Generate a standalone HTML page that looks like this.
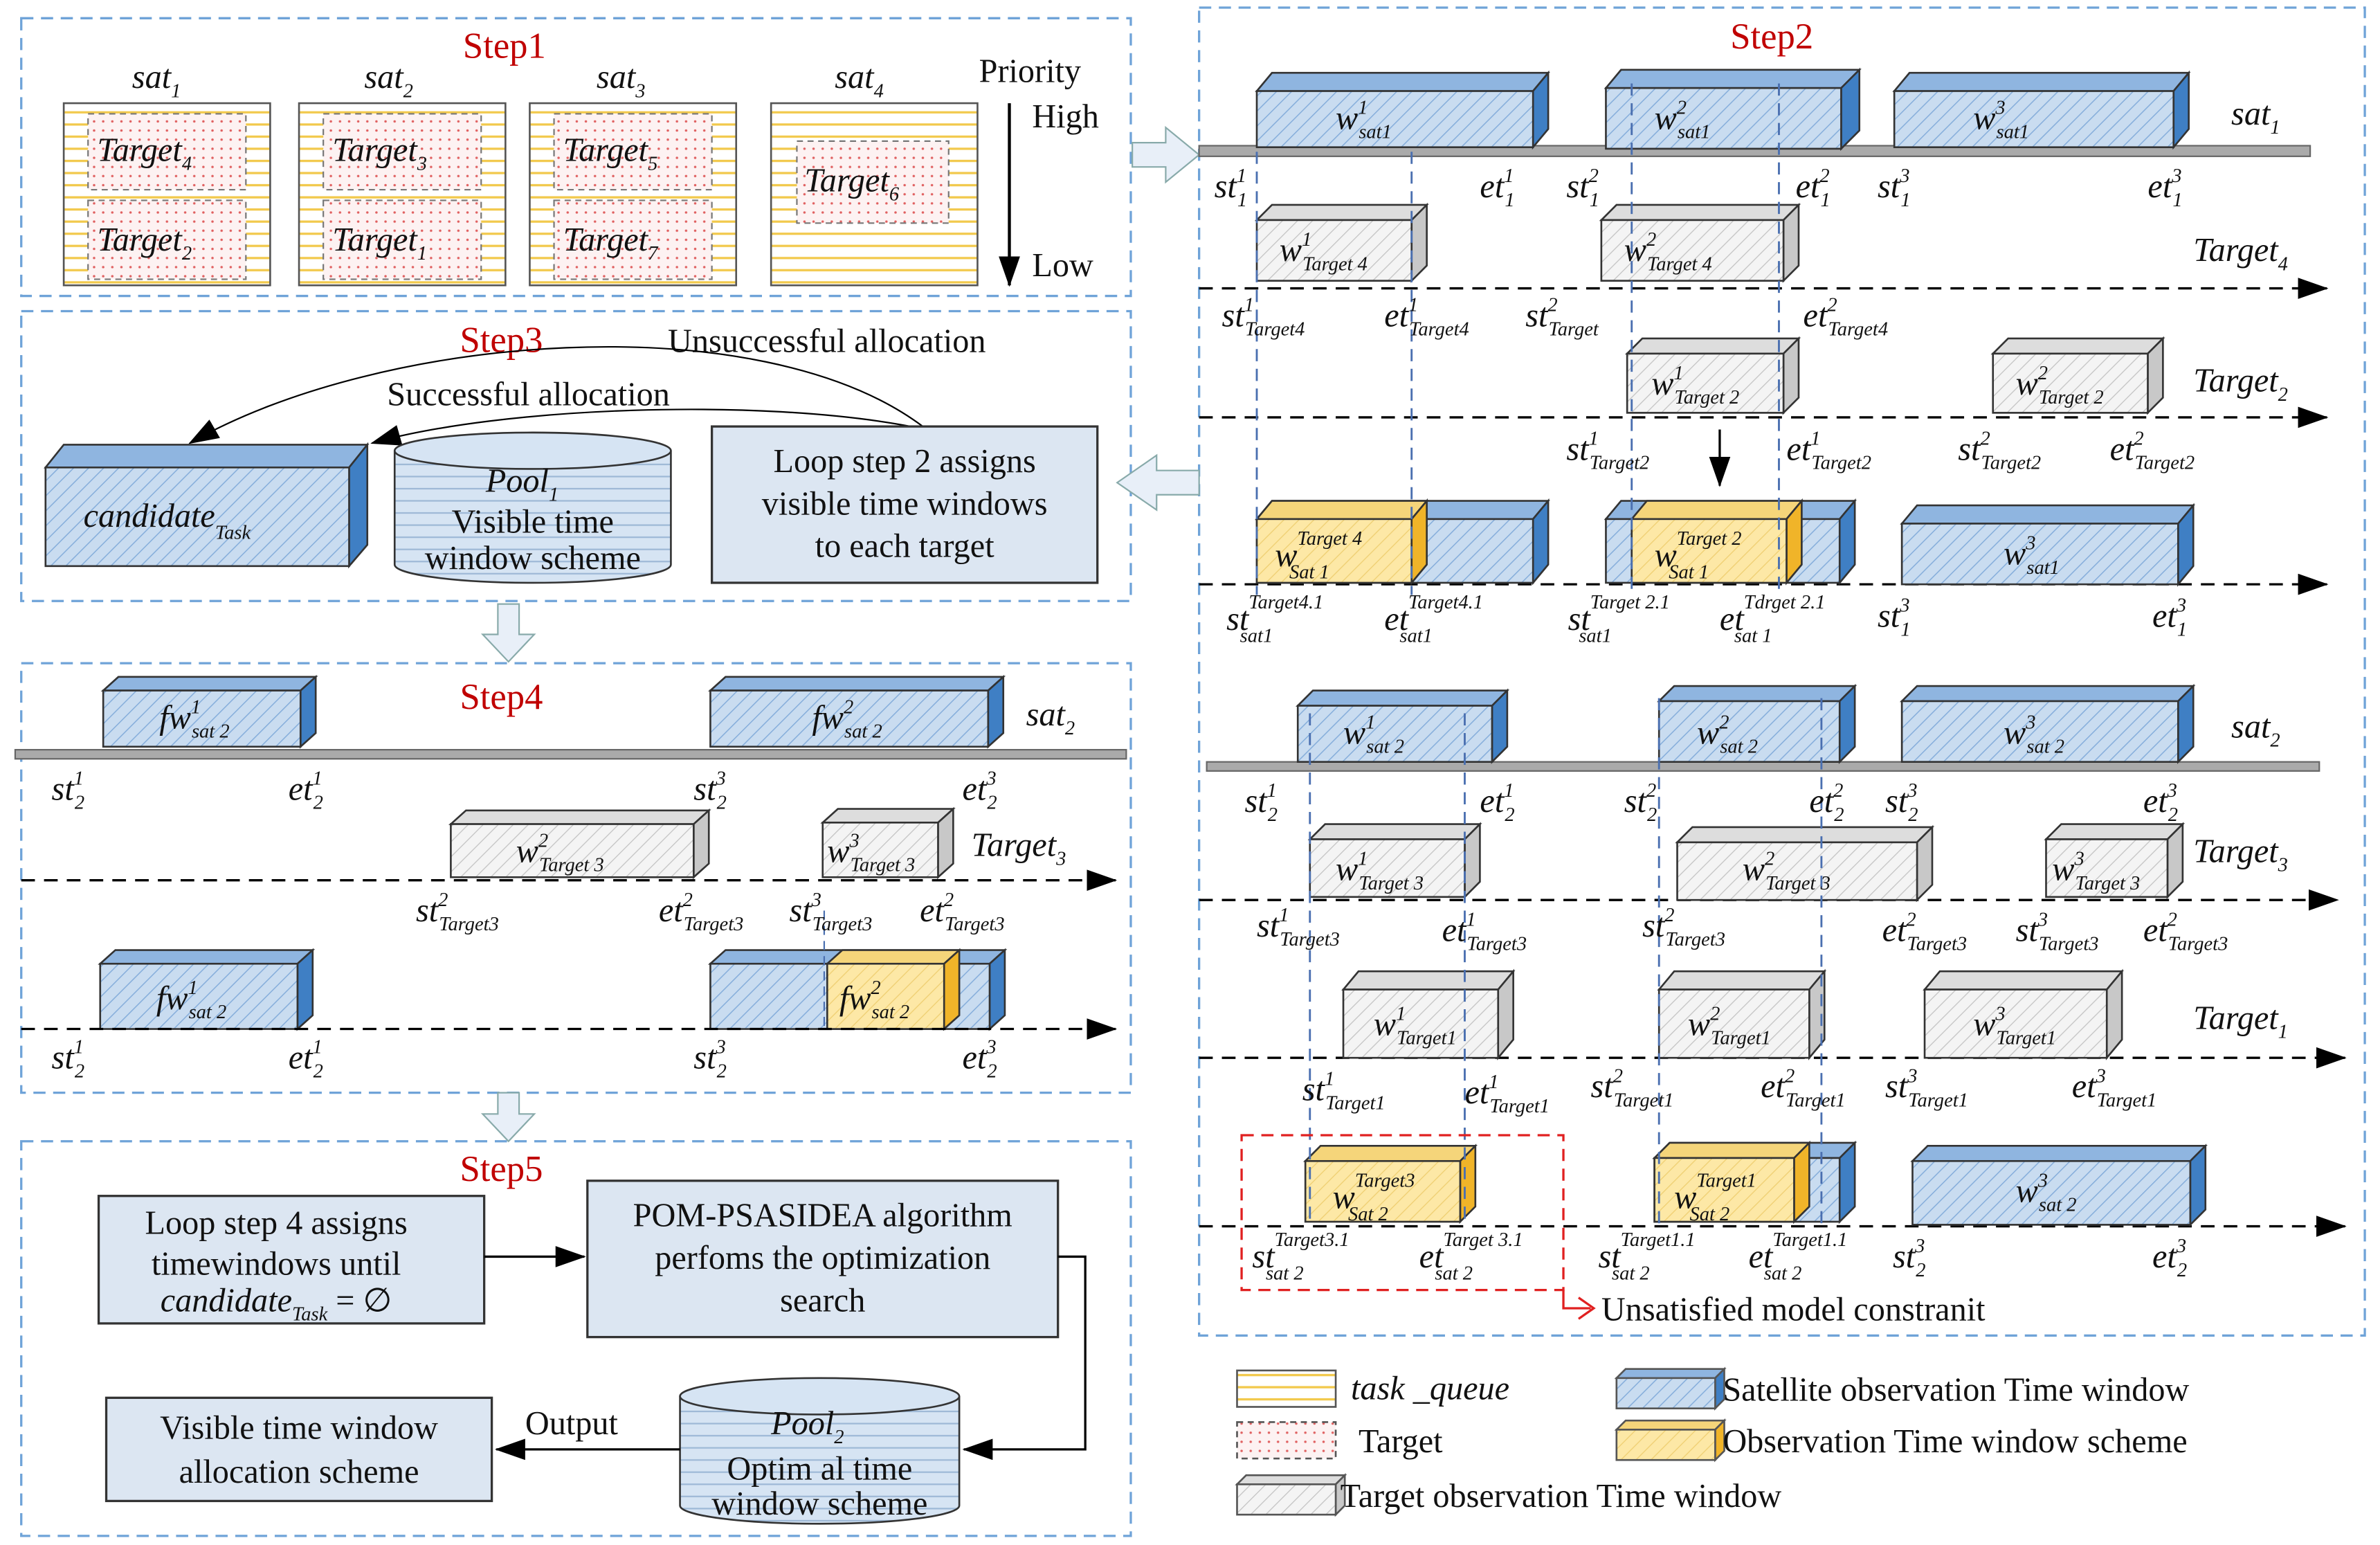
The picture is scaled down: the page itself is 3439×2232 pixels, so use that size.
<!DOCTYPE html>
<html><head><meta charset="utf-8"><style>
html,body{margin:0;padding:0;background:#fff}
svg{display:block}
text{font-family:"Liberation Serif",serif;fill:#111}
.i{font-style:italic}
.s{font-size:13px}
.l{font-size:22px;font-style:italic}
.t{font-size:22px}
.r{fill:#c00000;font-size:24px}
</style></head><body>
<svg width="3439" height="2232" viewBox="0 0 1568 1018" preserveAspectRatio="none" xmlns="http://www.w3.org/2000/svg">
<defs>
<pattern id="hb" width="7" height="7" patternUnits="userSpaceOnUse" patternTransform="rotate(45)"><rect width="7" height="7" fill="#c9dcf0"/><line x1="0" y1="0" x2="0" y2="7" stroke="#86aedb" stroke-width="1.4"/></pattern>
<pattern id="hg" width="7" height="7" patternUnits="userSpaceOnUse" patternTransform="rotate(45)"><rect width="7" height="7" fill="#f4f4f4"/><line x1="0" y1="0" x2="0" y2="7" stroke="#c4c4c4" stroke-width="1.2"/></pattern>
<pattern id="hy" width="7" height="7" patternUnits="userSpaceOnUse" patternTransform="rotate(45)"><rect width="7" height="7" fill="#fde8a6"/><line x1="0" y1="0" x2="0" y2="7" stroke="#efcf72" stroke-width="1.2"/></pattern>
<pattern id="ys" width="8" height="8" patternUnits="userSpaceOnUse"><rect width="8" height="8" fill="#fff"/><line x1="0" y1="2" x2="8" y2="2" stroke="#f2c94c" stroke-width="1.5"/></pattern>
<pattern id="bs" width="8" height="8" patternUnits="userSpaceOnUse"><rect width="8" height="8" fill="#d6e4f3"/><line x1="0" y1="2" x2="8" y2="2" stroke="#9db8d6" stroke-width="1"/></pattern>
<pattern id="rd" width="6" height="6" patternUnits="userSpaceOnUse"><rect width="6" height="6" fill="#fdf2f2"/><circle cx="2" cy="2" r="0.8" fill="#e06060"/></pattern>
<marker id="a" markerWidth="10" markerHeight="10" refX="9" refY="5" orient="auto" markerUnits="userSpaceOnUse"><path d="M0,0 L10,5 L0,10 z" fill="#000"/></marker>
<marker id="A" markerWidth="20" markerHeight="14" refX="19" refY="7" orient="auto" markerUnits="userSpaceOnUse"><path d="M0,0 L20,7 L0,14 z" fill="#000"/></marker>
</defs>
<g fill="none" stroke="#6fa3d8" stroke-width="1.5" stroke-dasharray="8,5">
<rect x="14" y="12" width="731" height="183"/>
<rect x="14" y="205" width="731" height="191"/>
<rect x="14" y="437" width="731" height="283"/>
<rect x="14" y="752" width="731" height="260"/>
<rect x="790" y="5" width="768" height="875"/>
</g>
<!-- Step1 -->
<text class="r" x="305" y="38">Step1</text>
<g class="l"><text x="87" y="58">sat<tspan class="s" dy="6">1</tspan></text><text x="240" y="58">sat<tspan class="s" dy="6">2</tspan></text><text x="393" y="58">sat<tspan class="s" dy="6">3</tspan></text><text x="550" y="58">sat<tspan class="s" dy="6">4</tspan></text></g>
<g stroke="#555" stroke-width="1.2" fill="url(#ys)"><rect x="42" y="68" width="136" height="120"/><rect x="197" y="68" width="136" height="120"/><rect x="349" y="68" width="136" height="120"/><rect x="508" y="68" width="136" height="120"/></g>
<g stroke="#777" stroke-dasharray="4,3" fill="url(#rd)"><rect x="58" y="75" width="104" height="50"/><rect x="58" y="132" width="104" height="52"/><rect x="213" y="75" width="104" height="50"/><rect x="213" y="132" width="104" height="52"/><rect x="365" y="75" width="104" height="50"/><rect x="365" y="132" width="104" height="52"/><rect x="525" y="93" width="100" height="54"/></g>
<g class="l" font-size="24"><text x="64" y="106">Target<tspan class="s" dy="6">4</tspan></text><text x="64" y="165">Target<tspan class="s" dy="6">2</tspan></text><text x="219" y="106">Target<tspan class="s" dy="6">3</tspan></text><text x="219" y="165">Target<tspan class="s" dy="6">1</tspan></text><text x="371" y="106">Target<tspan class="s" dy="6">5</tspan></text><text x="371" y="165">Target<tspan class="s" dy="6">7</tspan></text><text x="530" y="126">Target<tspan class="s" dy="6">6</tspan></text></g>
<line x1="665" y1="68" x2="665" y2="188" stroke="#000" stroke-width="2" marker-end="url(#A)"/>
<text class="t" x="645" y="54">Priority</text><text class="t" x="680" y="84">High</text><text class="t" x="680" y="182">Low</text>
<!-- hollow arrows -->
<path d="M746,94 L768,94 L768,84 L790,102 L768,120 L768,110 L746,110 z" fill="#e8eff8" stroke="#8aa" stroke-width="1"/>
<path d="M790,310 L762,310 L762,300 L736,318 L762,336 L762,326 L790,326 z" fill="#e8eff8" stroke="#8aa" stroke-width="1"/>
<path d="M328,398 L342,398 L342,418 L352,418 L335,436 L318,418 L328,418 z" fill="#e8eff8" stroke="#8aa" stroke-width="1"/>
<path d="M328,720 L342,720 L342,734 L352,734 L335,752 L318,734 L328,734 z" fill="#e8eff8" stroke="#8aa" stroke-width="1"/>
<!-- Step3 -->
<text class="r" x="303" y="232">Step3</text>
<text class="t" x="440" y="232">Unsuccessful allocation</text>
<text class="t" x="255" y="267">Successful allocation</text>
<path d="M608,281 C500,200 250,220 125,292" fill="none" stroke="#000" marker-end="url(#A)"/>
<path d="M600,281 C500,262 330,268 245,292" fill="none" stroke="#000" marker-end="url(#A)"/>
<g stroke="#333" stroke-width="1.2"><polygon points="30,308 42,293 242,293 230,308" fill="#8fb5e0"/><polygon points="230,308 242,293 242,359 230,373" fill="#3f7fc4"/><rect x="30" y="308" width="200" height="65" fill="url(#hb)"/></g>
<text class="l" x="55" y="347" font-size="26">candidate<tspan class="s" font-size="15" dy="8">Task</tspan></text>
<g stroke="#333" stroke-width="1.2"><path d="M260,297 L260,372 A91,12 0 0 0 442,372 L442,297" fill="url(#bs)"/><ellipse cx="351" cy="297" rx="91" ry="12" fill="#d6e4f3"/></g>
<text class="l" x="320" y="324" font-size="26">Pool<tspan class="s" dy="6">1</tspan></text>
<text class="t" x="351" y="351" text-anchor="middle" font-size="19">Visible time</text><text class="t" x="351" y="375" text-anchor="middle" font-size="19">window scheme</text>
<rect x="469" y="281" width="254" height="103" fill="#dce6f2" stroke="#333" stroke-width="1.5"/>
<g class="t" text-anchor="middle" font-size="23"><text x="596" y="311">Loop step 2 assigns</text><text x="596" y="339">visible time windows</text><text x="596" y="367">to each target</text></g>
<!-- Step4 -->
<text class="r" x="303" y="467">Step4</text>
<rect x="10" y="494" width="732" height="6" fill="#aaa" stroke="#666"/>
<g stroke="#333" stroke-width="1.2">
<polygon points="68,455 78,446 208,446 198,455" fill="#8fb5e0"/><polygon points="198,455 208,446 208,483 198,492" fill="#3f7fc4"/><rect x="68" y="455" width="130" height="37" fill="url(#hb)"/>
<polygon points="468,455 478,446 661,446 651,455" fill="#8fb5e0"/><polygon points="651,455 661,446 661,483 651,492" fill="#3f7fc4"/><rect x="468" y="455" width="183" height="37" fill="url(#hb)"/>
<polygon points="297,543 307,534 467,534 457,543" fill="#ddd"/><polygon points="457,543 467,534 467,569 457,578" fill="#c8c8c8"/><rect x="297" y="543" width="160" height="35" fill="url(#hg)"/>
<polygon points="542,542 552,533 628,533 618,542" fill="#ddd"/><polygon points="618,542 628,533 628,569 618,578" fill="#c8c8c8"/><rect x="542" y="542" width="76" height="36" fill="url(#hg)"/>
<polygon points="66,635 76,626 206,626 196,635" fill="#8fb5e0"/><polygon points="196,635 206,626 206,669 196,678" fill="#3f7fc4"/><rect x="66" y="635" width="130" height="43" fill="url(#hb)"/>
<polygon points="468,635 478,626 662,626 652,635" fill="#8fb5e0"/><polygon points="652,635 662,626 662,669 652,678" fill="#3f7fc4"/><rect x="468" y="635" width="184" height="43" fill="url(#hb)"/>
<polygon points="545,635 555,626 632,626 622,635" fill="#f5d57a"/><polygon points="622,635 632,626 632,669 622,678" fill="#f0b429"/><rect x="545" y="635" width="77" height="43" fill="url(#hy)"/>
</g>
<g class="l" font-size="24"><text x="105" y="480">fw<tspan class="s" dy="-10">1</tspan><tspan class="s" dx="-6" dy="16">sat 2</tspan></text><text x="535" y="480">fw<tspan class="s" dy="-10">2</tspan><tspan class="s" dx="-6" dy="16">sat 2</tspan></text><text x="103" y="665">fw<tspan class="s" dy="-10">1</tspan><tspan class="s" dx="-6" dy="16">sat 2</tspan></text><text x="553" y="665">fw<tspan class="s" dy="-10">2</tspan><tspan class="s" dx="-6" dy="16">sat 2</tspan></text>
<text x="340" y="568">w<tspan class="s" dy="-10">2</tspan><tspan class="s" dx="-6" dy="16">Target 3</tspan></text><text x="545" y="568">w<tspan class="s" dy="-10">3</tspan><tspan class="s" dx="-6" dy="16">Target 3</tspan></text>
<text x="676" y="478">sat<tspan class="s" dy="6">2</tspan></text><text x="640" y="564">Target<tspan class="s" dy="6">3</tspan></text></g>
<g stroke="#000" stroke-width="1.5" stroke-dasharray="9,6"><line x1="14" y1="580" x2="735" y2="580" marker-end="url(#A)"/><line x1="14" y1="678" x2="735" y2="678" marker-end="url(#A)"/></g>
<line x1="543" y1="600" x2="543" y2="680" stroke="#4a6fb0" stroke-dasharray="6,4"/>
<g class="l"><text x="34" y="527">st<tspan class="s" dy="-10">1</tspan><tspan class="s" dx="-6" dy="16">2</tspan></text><text x="190" y="527">et<tspan class="s" dy="-10">1</tspan><tspan class="s" dx="-6" dy="16">2</tspan></text><text x="457" y="527">st<tspan class="s" dy="-10">3</tspan><tspan class="s" dx="-6" dy="16">2</tspan></text><text x="634" y="527">et<tspan class="s" dy="-10">3</tspan><tspan class="s" dx="-6" dy="16">2</tspan></text>
<text x="274" y="607">st<tspan class="s" dy="-10">2</tspan><tspan class="s" dx="-6" dy="16">Target3</tspan></text><text x="434" y="607">et<tspan class="s" dy="-10">2</tspan><tspan class="s" dx="-6" dy="16">Target3</tspan></text><text x="520" y="607">st<tspan class="s" dy="-10">3</tspan><tspan class="s" dx="-6" dy="16">Target3</tspan></text><text x="606" y="607">et<tspan class="s" dy="-10">2</tspan><tspan class="s" dx="-6" dy="16">Target3</tspan></text>
<text x="34" y="704">st<tspan class="s" dy="-10">1</tspan><tspan class="s" dx="-6" dy="16">2</tspan></text><text x="190" y="704">et<tspan class="s" dy="-10">1</tspan><tspan class="s" dx="-6" dy="16">2</tspan></text><text x="457" y="704">st<tspan class="s" dy="-10">3</tspan><tspan class="s" dx="-6" dy="16">2</tspan></text><text x="634" y="704">et<tspan class="s" dy="-10">3</tspan><tspan class="s" dx="-6" dy="16">2</tspan></text></g>
<!-- Step5 -->
<text class="r" x="303" y="778">Step5</text>
<rect x="65" y="788" width="254" height="84" fill="#dce6f2" stroke="#333" stroke-width="1.5"/>
<g class="t" text-anchor="middle"><text x="182" y="813">Loop step 4 assigns</text><text x="182" y="840">timewindows until</text><text x="182" y="864"><tspan class="i">candidate</tspan><tspan class="s i" dy="6">Task</tspan><tspan dy="-6"> = ∅</tspan></text></g>
<line x1="319" y1="828" x2="385" y2="828" stroke="#000" stroke-width="1.5" marker-end="url(#A)"/>
<rect x="387" y="778" width="310" height="103" fill="#dce6f2" stroke="#333" stroke-width="1.5"/>
<g class="t" text-anchor="middle"><text x="542" y="808">POM-PSASIDEA algorithm</text><text x="542" y="836">perfoms the optimization</text><text x="542" y="864">search</text></g>
<polyline points="697,828 715,828 715,955 635,955" fill="none" stroke="#000" stroke-width="1.5" marker-end="url(#A)"/>
<g stroke="#333" stroke-width="1.2"><path d="M448,920 L448,992 A92,12 0 0 0 632,992 L632,920" fill="url(#bs)"/><ellipse cx="540" cy="920" rx="92" ry="12" fill="#d6e4f3"/></g>
<text class="l" x="508" y="945" font-size="26">Pool<tspan class="s" dy="6">2</tspan></text>
<text class="t" x="540" y="975" text-anchor="middle" font-size="18">Optim al time</text><text class="t" x="540" y="998" text-anchor="middle" font-size="18">window scheme</text>
<line x1="448" y1="955" x2="327" y2="955" stroke="#000" stroke-width="1.5" marker-end="url(#A)"/>
<text class="t" x="346" y="945">Output</text>
<rect x="70" y="921" width="254" height="68" fill="#dce6f2" stroke="#333" stroke-width="1.5"/>
<g class="t" text-anchor="middle"><text x="197" y="948">Visible time window</text><text x="197" y="977">allocation scheme</text></g>
<!-- Step2 -->
<text class="r" x="1140" y="32">Step2</text>
<rect x="790" y="96" width="732" height="7" fill="#aaa" stroke="#666"/>
<rect x="795" y="502" width="733" height="6" fill="#aaa" stroke="#666"/>
<g stroke="#000" stroke-width="1.5" stroke-dasharray="9,6">
<line x1="790" y1="190" x2="1533" y2="190" marker-end="url(#A)"/><line x1="790" y1="275" x2="1533" y2="275" marker-end="url(#A)"/><line x1="790" y1="385" x2="1533" y2="385" marker-end="url(#A)"/><line x1="790" y1="593" x2="1540" y2="593" marker-end="url(#A)"/><line x1="790" y1="697" x2="1545" y2="697" marker-end="url(#A)"/><line x1="790" y1="808" x2="1545" y2="808" marker-end="url(#A)"/></g>
<g stroke="#333" stroke-width="1.2">
<!-- sat1 -->
<polygon points="828,60 838,48 1020,48 1010,60" fill="#8fb5e0"/><polygon points="1010,60 1020,48 1020,85 1010,97" fill="#3f7fc4"/><rect x="828" y="60" width="182" height="37" fill="url(#hb)"/>
<polygon points="1058,58 1068,46 1225,46 1213,58" fill="#8fb5e0"/><polygon points="1213,58 1225,46 1225,86 1213,98" fill="#3f7fc4"/><rect x="1058" y="58" width="155" height="40" fill="url(#hb)"/>
<polygon points="1248,60 1258,48 1442,48 1432,60" fill="#8fb5e0"/><polygon points="1432,60 1442,48 1442,85 1432,97" fill="#3f7fc4"/><rect x="1248" y="60" width="184" height="37" fill="url(#hb)"/>
<!-- Target4 -->
<polygon points="828,145 838,135 940,135 930,145" fill="#ddd"/><polygon points="930,145 940,135 940,175 930,185" fill="#c8c8c8"/><rect x="828" y="145" width="102" height="40" fill="url(#hg)"/>
<polygon points="1055,145 1065,135 1185,135 1175,145" fill="#ddd"/><polygon points="1175,145 1185,135 1185,175 1175,185" fill="#c8c8c8"/><rect x="1055" y="145" width="120" height="40" fill="url(#hg)"/>
<!-- Target2 -->
<polygon points="1072,233 1082,223 1185,223 1175,233" fill="#ddd"/><polygon points="1175,233 1185,223 1185,262 1175,272" fill="#c8c8c8"/><rect x="1072" y="233" width="103" height="39" fill="url(#hg)"/>
<polygon points="1313,233 1323,223 1425,223 1415,233" fill="#ddd"/><polygon points="1415,233 1425,223 1425,262 1415,272" fill="#c8c8c8"/><rect x="1313" y="233" width="102" height="39" fill="url(#hg)"/>
<!-- scheme row -->
<polygon points="828,342 838,330 1020,330 1010,342" fill="#8fb5e0"/><polygon points="1010,342 1020,330 1020,372 1010,384" fill="#3f7fc4"/><rect x="828" y="342" width="182" height="42" fill="url(#hb)"/>
<polygon points="828,342 838,330 940,330 930,342" fill="#f5d57a"/><polygon points="930,342 940,330 940,372 930,384" fill="#f0b429"/><rect x="828" y="342" width="102" height="42" fill="url(#hy)"/>
<polygon points="1058,342 1068,330 1222,330 1212,342" fill="#8fb5e0"/><polygon points="1212,342 1222,330 1222,372 1212,384" fill="#3f7fc4"/><rect x="1058" y="342" width="154" height="42" fill="url(#hb)"/>
<polygon points="1075,342 1085,330 1187,330 1177,342" fill="#f5d57a"/><polygon points="1177,342 1187,330 1187,372 1177,384" fill="#f0b429"/><rect x="1075" y="342" width="102" height="42" fill="url(#hy)"/>
<polygon points="1253,345 1263,333 1445,333 1435,345" fill="#8fb5e0"/><polygon points="1435,345 1445,333 1445,373 1435,385" fill="#3f7fc4"/><rect x="1253" y="345" width="182" height="40" fill="url(#hb)"/>
<!-- sat2 -->
<polygon points="855,465 865,455 993,455 983,465" fill="#8fb5e0"/><polygon points="983,465 993,455 993,492 983,502" fill="#3f7fc4"/><rect x="855" y="465" width="128" height="37" fill="url(#hb)"/>
<polygon points="1093,462 1103,452 1222,452 1212,462" fill="#8fb5e0"/><polygon points="1212,462 1222,452 1222,492 1212,502" fill="#3f7fc4"/><rect x="1093" y="462" width="119" height="40" fill="url(#hb)"/>
<polygon points="1253,462 1263,452 1445,452 1435,462" fill="#8fb5e0"/><polygon points="1435,462 1445,452 1445,492 1435,502" fill="#3f7fc4"/><rect x="1253" y="462" width="182" height="40" fill="url(#hb)"/>
<!-- Target3 -->
<polygon points="863,553 873,543 975,543 965,553" fill="#ddd"/><polygon points="965,553 975,543 975,581 965,591" fill="#c8c8c8"/><rect x="863" y="553" width="102" height="38" fill="url(#hg)"/>
<polygon points="1105,555 1115,545 1273,545 1263,555" fill="#ddd"/><polygon points="1263,555 1273,545 1273,583 1263,593" fill="#c8c8c8"/><rect x="1105" y="555" width="158" height="38" fill="url(#hg)"/>
<polygon points="1348,553 1358,543 1438,543 1428,553" fill="#ddd"/><polygon points="1428,553 1438,543 1438,581 1428,591" fill="#c8c8c8"/><rect x="1348" y="553" width="80" height="38" fill="url(#hg)"/>
<!-- Target1 -->
<polygon points="885,652 895,640 997,640 987,652" fill="#ddd"/><polygon points="987,652 997,640 997,685 987,697" fill="#c8c8c8"/><rect x="885" y="652" width="102" height="45" fill="url(#hg)"/>
<polygon points="1093,652 1103,640 1202,640 1192,652" fill="#ddd"/><polygon points="1192,652 1202,640 1202,685 1192,697" fill="#c8c8c8"/><rect x="1093" y="652" width="99" height="45" fill="url(#hg)"/>
<polygon points="1268,652 1278,640 1398,640 1388,652" fill="#ddd"/><polygon points="1388,652 1398,640 1398,685 1388,697" fill="#c8c8c8"/><rect x="1268" y="652" width="120" height="45" fill="url(#hg)"/>
<!-- last row -->
<polygon points="860,765 870,755 972,755 962,765" fill="#f5d57a"/><polygon points="962,765 972,755 972,795 962,805" fill="#f0b429"/><rect x="860" y="765" width="102" height="40" fill="url(#hy)"/>
<polygon points="1090,763 1100,753 1222,753 1212,763" fill="#8fb5e0"/><polygon points="1212,763 1222,753 1222,795 1212,805" fill="#3f7fc4"/><rect x="1090" y="763" width="122" height="42" fill="url(#hb)"/>
<polygon points="1090,763 1100,753 1192,753 1182,763" fill="#f5d57a"/><polygon points="1182,763 1192,753 1192,795 1182,805" fill="#f0b429"/><rect x="1090" y="763" width="92" height="42" fill="url(#hy)"/>
<polygon points="1260,765 1270,755 1453,755 1443,765" fill="#8fb5e0"/><polygon points="1443,765 1453,755 1453,797 1443,807" fill="#3f7fc4"/><rect x="1260" y="765" width="183" height="42" fill="url(#hb)"/>
</g>
<g stroke="#4a6fb0" stroke-width="1.3" stroke-dasharray="8,5">
<line x1="828" y1="100" x2="828" y2="392"/><line x1="930" y1="100" x2="930" y2="392"/><line x1="1075" y1="55" x2="1075" y2="392"/><line x1="1172" y1="55" x2="1172" y2="392"/>
<line x1="863" y1="470" x2="863" y2="805"/><line x1="965" y1="470" x2="965" y2="805"/><line x1="1093" y1="460" x2="1093" y2="810"/><line x1="1200" y1="460" x2="1200" y2="810"/></g>
<line x1="1133" y1="283" x2="1133" y2="320" stroke="#000" stroke-width="1.5" marker-end="url(#A)"/>
<rect x="818" y="748" width="212" height="102" fill="none" stroke="#e02020" stroke-width="1.5" stroke-dasharray="8,5"/>
<polyline points="1030,850 1030,862 1048,862" fill="none" stroke="#e02020" stroke-width="1.5"/><polyline points="1040,855 1050,862 1040,869" fill="none" stroke="#e02020" stroke-width="1.5"/>
<text class="t" x="1055" y="870">Unsatisfied model constranit</text>
<g class="l" font-size="24">
<text x="880" y="85">w<tspan class="s" dy="-10">1</tspan><tspan class="s" dx="-6" dy="16">sat1</tspan></text><text x="1090" y="85">w<tspan class="s" dy="-10">2</tspan><tspan class="s" dx="-6" dy="16">sat1</tspan></text><text x="1300" y="85">w<tspan class="s" dy="-10">3</tspan><tspan class="s" dx="-6" dy="16">sat1</tspan></text>
<text x="1470" y="82">sat<tspan class="s" dy="6">1</tspan></text>
<text x="843" y="172">w<tspan class="s" dy="-10">1</tspan><tspan class="s" dx="-6" dy="16">Target 4</tspan></text><text x="1070" y="172">w<tspan class="s" dy="-10">2</tspan><tspan class="s" dx="-6" dy="16">Target 4</tspan></text>
<text x="1445" y="172">Target<tspan class="s" dy="6">4</tspan></text>
<text x="1088" y="260">w<tspan class="s" dy="-10">1</tspan><tspan class="s" dx="-6" dy="16">Target 2</tspan></text><text x="1328" y="260">w<tspan class="s" dy="-10">2</tspan><tspan class="s" dx="-6" dy="16">Target 2</tspan></text>
<text x="1445" y="258">Target<tspan class="s" dy="6">2</tspan></text>
<text x="840" y="373">w<tspan class="s" dy="-14">Target 4</tspan><tspan class="s" dx="-48" dy="22">Sat 1</tspan></text><text x="1090" y="373">w<tspan class="s" dy="-14">Target 2</tspan><tspan class="s" dx="-48" dy="22">Sat 1</tspan></text>
<text x="1320" y="372">w<tspan class="s" dy="-10">3</tspan><tspan class="s" dx="-6" dy="16">sat1</tspan></text>
<text x="885" y="490">w<tspan class="s" dy="-10">1</tspan><tspan class="s" dx="-6" dy="16">sat 2</tspan></text><text x="1118" y="490">w<tspan class="s" dy="-10">2</tspan><tspan class="s" dx="-6" dy="16">sat 2</tspan></text><text x="1320" y="490">w<tspan class="s" dy="-10">3</tspan><tspan class="s" dx="-6" dy="16">sat 2</tspan></text>
<text x="1470" y="486">sat<tspan class="s" dy="6">2</tspan></text>
<text x="880" y="580">w<tspan class="s" dy="-10">1</tspan><tspan class="s" dx="-6" dy="16">Target 3</tspan></text><text x="1148" y="580">w<tspan class="s" dy="-10">2</tspan><tspan class="s" dx="-6" dy="16">Target 3</tspan></text><text x="1352" y="580">w<tspan class="s" dy="-10">3</tspan><tspan class="s" dx="-6" dy="16">Target 3</tspan></text>
<text x="1445" y="568">Target<tspan class="s" dy="6">3</tspan></text>
<text x="905" y="682">w<tspan class="s" dy="-10">1</tspan><tspan class="s" dx="-6" dy="16">Target1</tspan></text><text x="1112" y="682">w<tspan class="s" dy="-10">2</tspan><tspan class="s" dx="-6" dy="16">Target1</tspan></text><text x="1300" y="682">w<tspan class="s" dy="-10">3</tspan><tspan class="s" dx="-6" dy="16">Target1</tspan></text>
<text x="1445" y="678">Target<tspan class="s" dy="6">1</tspan></text>
<text x="878" y="796">w<tspan class="s" dy="-14">Target3</tspan><tspan class="s" dx="-44" dy="22">Sat 2</tspan></text><text x="1103" y="796">w<tspan class="s" dy="-14">Target1</tspan><tspan class="s" dx="-44" dy="22">Sat 2</tspan></text>
<text x="1328" y="792">w<tspan class="s" dy="-10">3</tspan><tspan class="s" dx="-6" dy="16">sat 2</tspan></text>
</g>
<g class="l">
<text x="800" y="130">st<tspan class="s" dy="-10">1</tspan><tspan class="s" dx="-6" dy="16">1</tspan></text><text x="975" y="130">et<tspan class="s" dy="-10">1</tspan><tspan class="s" dx="-6" dy="16">1</tspan></text><text x="1032" y="130">st<tspan class="s" dy="-10">2</tspan><tspan class="s" dx="-6" dy="16">1</tspan></text><text x="1183" y="130">et<tspan class="s" dy="-10">2</tspan><tspan class="s" dx="-6" dy="16">1</tspan></text><text x="1237" y="130">st<tspan class="s" dy="-10">3</tspan><tspan class="s" dx="-6" dy="16">1</tspan></text><text x="1415" y="130">et<tspan class="s" dy="-10">3</tspan><tspan class="s" dx="-6" dy="16">1</tspan></text>
<text x="805" y="215">st<tspan class="s" dy="-10">1</tspan><tspan class="s" dx="-6" dy="16">Target4</tspan></text><text x="912" y="215">et<tspan class="s" dy="-10">1</tspan><tspan class="s" dx="-6" dy="16">Target4</tspan></text><text x="1005" y="215">st<tspan class="s" dy="-10">2</tspan><tspan class="s" dx="-6" dy="16">Target</tspan></text><text x="1188" y="215">et<tspan class="s" dy="-10">2</tspan><tspan class="s" dx="-6" dy="16">Target4</tspan></text>
<text x="1032" y="303">st<tspan class="s" dy="-10">1</tspan><tspan class="s" dx="-6" dy="16">Target2</tspan></text><text x="1177" y="303">et<tspan class="s" dy="-10">1</tspan><tspan class="s" dx="-6" dy="16">Target2</tspan></text><text x="1290" y="303">st<tspan class="s" dy="-10">2</tspan><tspan class="s" dx="-6" dy="16">Target2</tspan></text><text x="1390" y="303">et<tspan class="s" dy="-10">2</tspan><tspan class="s" dx="-6" dy="16">Target2</tspan></text>
<text x="808" y="415">st<tspan class="s" dy="-14">Target4.1</tspan><tspan class="s" dx="-55" dy="22">sat1</tspan></text><text x="912" y="415">et<tspan class="s" dy="-14">Target4.1</tspan><tspan class="s" dx="-55" dy="22">sat1</tspan></text><text x="1033" y="415">st<tspan class="s" dy="-14">Target 2.1</tspan><tspan class="s" dx="-60" dy="22">sat1</tspan></text><text x="1133" y="415">et<tspan class="s" dy="-14">Tdrget 2.1</tspan><tspan class="s" dx="-60" dy="22">sat 1</tspan></text><text x="1237" y="413">st<tspan class="s" dy="-10">3</tspan><tspan class="s" dx="-6" dy="16">1</tspan></text><text x="1418" y="413">et<tspan class="s" dy="-10">3</tspan><tspan class="s" dx="-6" dy="16">1</tspan></text>
<text x="820" y="535">st<tspan class="s" dy="-10">1</tspan><tspan class="s" dx="-6" dy="16">2</tspan></text><text x="975" y="535">et<tspan class="s" dy="-10">1</tspan><tspan class="s" dx="-6" dy="16">2</tspan></text><text x="1070" y="535">st<tspan class="s" dy="-10">2</tspan><tspan class="s" dx="-6" dy="16">2</tspan></text><text x="1192" y="535">et<tspan class="s" dy="-10">2</tspan><tspan class="s" dx="-6" dy="16">2</tspan></text><text x="1242" y="535">st<tspan class="s" dy="-10">3</tspan><tspan class="s" dx="-6" dy="16">2</tspan></text><text x="1412" y="535">et<tspan class="s" dy="-10">3</tspan><tspan class="s" dx="-6" dy="16">2</tspan></text>
<text x="828" y="617">st<tspan class="s" dy="-10">1</tspan><tspan class="s" dx="-6" dy="16">Target3</tspan></text><text x="950" y="620">et<tspan class="s" dy="-10">1</tspan><tspan class="s" dx="-6" dy="16">Target3</tspan></text><text x="1082" y="617">st<tspan class="s" dy="-10">2</tspan><tspan class="s" dx="-6" dy="16">Target3</tspan></text><text x="1240" y="620">et<tspan class="s" dy="-10">2</tspan><tspan class="s" dx="-6" dy="16">Target3</tspan></text><text x="1328" y="620">st<tspan class="s" dy="-10">3</tspan><tspan class="s" dx="-6" dy="16">Target3</tspan></text><text x="1412" y="620">et<tspan class="s" dy="-10">2</tspan><tspan class="s" dx="-6" dy="16">Target3</tspan></text>
<text x="858" y="725">st<tspan class="s" dy="-10">1</tspan><tspan class="s" dx="-6" dy="16">Target1</tspan></text><text x="965" y="727">et<tspan class="s" dy="-10">1</tspan><tspan class="s" dx="-6" dy="16">Target1</tspan></text><text x="1048" y="723">st<tspan class="s" dy="-10">2</tspan><tspan class="s" dx="-6" dy="16">Target1</tspan></text><text x="1160" y="723">et<tspan class="s" dy="-10">2</tspan><tspan class="s" dx="-6" dy="16">Target1</tspan></text><text x="1242" y="723">st<tspan class="s" dy="-10">3</tspan><tspan class="s" dx="-6" dy="16">Target1</tspan></text><text x="1365" y="723">et<tspan class="s" dy="-10">3</tspan><tspan class="s" dx="-6" dy="16">Target1</tspan></text>
<text x="825" y="835">st<tspan class="s" dy="-14">Target3.1</tspan><tspan class="s" dx="-55" dy="22">sat 2</tspan></text><text x="935" y="835">et<tspan class="s" dy="-14">Target 3.1</tspan><tspan class="s" dx="-58" dy="22">sat 2</tspan></text><text x="1053" y="835">st<tspan class="s" dy="-14">Target1.1</tspan><tspan class="s" dx="-55" dy="22">sat 2</tspan></text><text x="1152" y="835">et<tspan class="s" dy="-14">Target1.1</tspan><tspan class="s" dx="-55" dy="22">sat 2</tspan></text><text x="1247" y="835">st<tspan class="s" dy="-10">3</tspan><tspan class="s" dx="-6" dy="16">2</tspan></text><text x="1418" y="835">et<tspan class="s" dy="-10">3</tspan><tspan class="s" dx="-6" dy="16">2</tspan></text>
</g>
<!-- Legend -->
<g stroke="#555" stroke-width="1.2">
<rect x="815" y="903" width="65" height="24" fill="url(#ys)"/>
<rect x="815" y="937" width="65" height="24" fill="url(#rd)" stroke-dasharray="4,3"/>
<polygon points="815,978 821,972 886,972 880,978" fill="#ddd"/><polygon points="880,978 886,972 886,992 880,998" fill="#c8c8c8"/><rect x="815" y="978" width="65" height="20" fill="url(#hg)"/>
<polygon points="1065,908 1071,902 1136,902 1130,908" fill="#8fb5e0"/><polygon points="1130,908 1136,902 1136,922 1130,928" fill="#3f7fc4"/><rect x="1065" y="908" width="65" height="20" fill="url(#hb)"/>
<polygon points="1065,942 1071,936 1136,936 1130,942" fill="#f5d57a"/><polygon points="1130,942 1136,936 1136,956 1130,962" fill="#f0b429"/><rect x="1065" y="942" width="65" height="20" fill="url(#hy)"/>
</g>
<text class="l" x="890" y="922" font-size="24">task _queue</text>
<text class="t" x="895" y="957">Target</text>
<text class="t" x="883" y="993">Target observation Time window</text>
<text class="t" x="1135" y="923">Satellite observation Time window</text>
<text class="t" x="1135" y="957">Observation Time window scheme</text>
</svg>
</body></html>
